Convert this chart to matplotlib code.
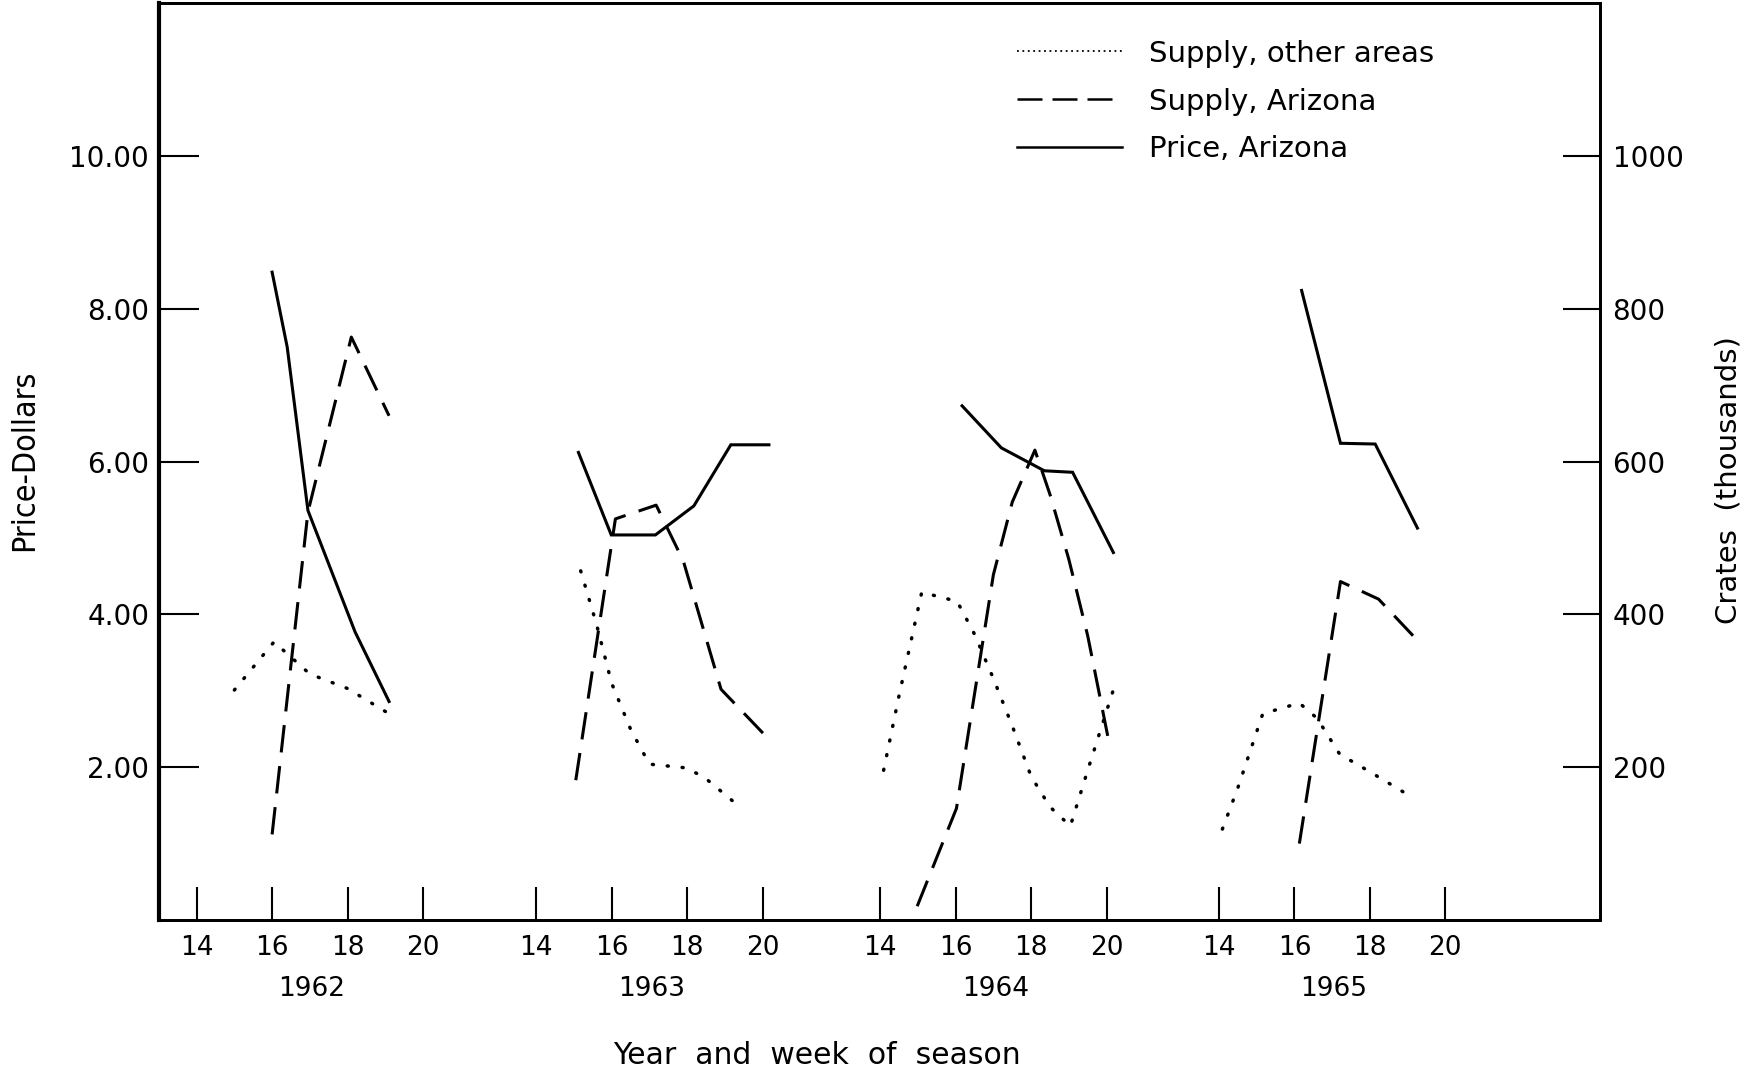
import matplotlib
matplotlib.use("Agg")
import matplotlib.pyplot as plt
from matplotlib.lines import Line2D

plt.rcParams['font.family'] = ['DejaVu Sans']

# ---- data ----
years = [1962, 1963, 1964, 1965]
week_ticks = [14, 16, 18, 20]
week_tick_labels = ["14", "16", "18", "20"]

# Price, Arizona (dollars)
price_weeks_1962 = [16.0, 16.4, 16.95, 18.2, 19.1]
price_1962 = [8.48, 7.5, 5.36, 3.77, 2.86]
price_weeks_1963 = [15.12, 15.99, 17.16, 18.18, 19.16, 20.17]
price_1963 = [6.12, 5.04, 5.04, 5.42, 6.22, 6.22]
price_weeks_1964 = [16.17, 17.21, 18.35, 19.1, 20.18]
price_1964 = [6.73, 6.18, 5.88, 5.86, 4.81]
price_weeks_1965 = [16.19, 17.22, 18.14, 19.26]
price_1965 = [8.24, 6.24, 6.23, 5.13]

# Supply, Arizona (thousand crates)
az_weeks_1962 = [16.0, 16.95, 18.1, 19.1]
az_1962 = [112, 534, 763, 660]
az_weeks_1963 = [15.05, 16.1, 17.18, 17.9, 18.9, 20.1]
az_1963 = [183, 525, 543, 470, 302, 240]
az_weeks_1964 = [14.98, 16.02, 16.5, 17.0, 17.5, 18.1, 18.5, 19.0, 19.5, 20.03]
az_1964 = [18, 146, 296, 452, 547, 615, 557, 472, 372, 241]
az_weeks_1965 = [16.13, 17.22, 18.23, 19.26]
az_1965 = [100, 443, 420, 366]

# Supply, other areas (thousand crates)
oth_weeks_1962 = [15.0, 16.05, 17.0, 18.0, 18.6, 19.1]
oth_1962 = [301, 364, 322, 303, 285, 270]
oth_weeks_1963 = [15.18, 15.6, 16.0, 16.5, 17.0, 18.0, 18.5, 19.35]
oth_1963 = [457, 387, 310, 250, 204, 199, 185, 150]
oth_weeks_1964 = [14.09, 14.5, 15.1, 16.04, 16.5, 17.0, 17.5, 18.0, 18.5, 19.04, 19.5, 20.21]
oth_1964 = [196, 294, 429, 417, 374, 316, 254, 188, 148, 123, 196, 306]
oth_weeks_1965 = [14.09, 14.5, 15.16, 16.13, 16.6, 17.2, 18.0, 19.14]
oth_1965 = [119, 173, 270, 284, 264, 217, 194, 160]

price_weeks = [price_weeks_1962, price_weeks_1963, price_weeks_1964, price_weeks_1965]
prices = [price_1962, price_1963, price_1964, price_1965]
az_weeks = [az_weeks_1962, az_weeks_1963, az_weeks_1964, az_weeks_1965]
azs = [az_1962, az_1963, az_1964, az_1965]
oth_weeks = [oth_weeks_1962, oth_weeks_1963, oth_weeks_1964, oth_weeks_1965]
oths = [oth_1962, oth_1963, oth_1964, oth_1965]

# horizontal position of each season block (in week units)
block_offset = [0, 9, 18.12, 27.1]

fig = plt.figure(figsize=(17.6, 10.73), dpi=100)
ax = fig.add_axes([0.0903, 0.1426, 0.8188, 0.8544])
ax2 = ax.twinx()

LW = 2.2
for i in range(4):
    off = block_offset[i]
    ax.plot([w + off for w in price_weeks[i]], prices[i], color='black', lw=LW,
            solid_joinstyle='miter')
    ax2.plot([w + off for w in az_weeks[i]], azs[i], color='black', lw=LW,
             dashes=(9, 4.5))
    ax2.plot([w + off for w in oth_weeks[i]], oths[i], color='black', lw=2.5,
             dashes=(0.3, 4.0), dash_capstyle='round')

ax.set_xlim(13.0, 51.2)
ax.set_ylim(0, 12.0)
ax2.set_ylim(0, 1200)

# x ticks
xt, xl = [], []
for off in block_offset:
    for w, lab in zip(week_ticks, week_tick_labels):
        xt.append(w + off)
        xl.append(lab)
ax.set_xticks(xt)
ax.set_xticklabels(xl)
ax.set_yticks([2, 4, 6, 8, 10])
ax.set_yticklabels(["2.00", "4.00", "6.00", "8.00", "10.00"])
ax2.set_yticks([200, 400, 600, 800, 1000])
ax2.set_yticklabels(["200", "400", "600", "800", "1000"])

ax.tick_params(axis='x', direction='in', length=24, width=1.5, pad=11, labelsize=19)
ax.tick_params(axis='y', direction='in', length=29, width=1.5, pad=7, labelsize=20)
ax2.tick_params(axis='y', direction='in', length=27, width=1.5, pad=9, labelsize=20)

for a in (ax, ax2):
    for s in a.spines.values():
        s.set_linewidth(2)
ax.spines['left'].set_linewidth(3)

# year labels
for off, yr in zip(block_offset, years):
    ax.annotate(str(yr), xy=(17.05 + off, 0), xycoords=('data', 'axes fraction'),
                xytext=(0, -50), textcoords='offset points',
                ha='center', va='center', fontsize=19)

fig.text(0.4642, 0.016, "Year  and  week  of  season", ha='center', va='center',
         fontsize=21.5)
fig.text(0.014, 0.571, "Price-Dollars", rotation=90, ha='center', va='center',
         fontsize=23, fontstretch='condensed')
fig.text(0.982, 0.553, "Crates  (thousands)", rotation=90, ha='center', va='center',
         fontsize=21)

handles = [
    Line2D([], [], color='black', lw=1.3, dashes=(1, 2)),
    Line2D([], [], color='black', lw=1.8, dashes=(10, 4)),
    Line2D([], [], color='black', lw=1.8),
]
labels = ["Supply, other areas", "Supply, Arizona", "Price, Arizona"]
fig.legend(handles, labels, loc='upper left', bbox_to_anchor=(0.578, 0.963),
           frameon=False, fontsize=21, handlelength=3.6, handletextpad=0.9,
           labelspacing=0.68, borderpad=0, borderaxespad=0)

fig.savefig("out.png", dpi=100)
